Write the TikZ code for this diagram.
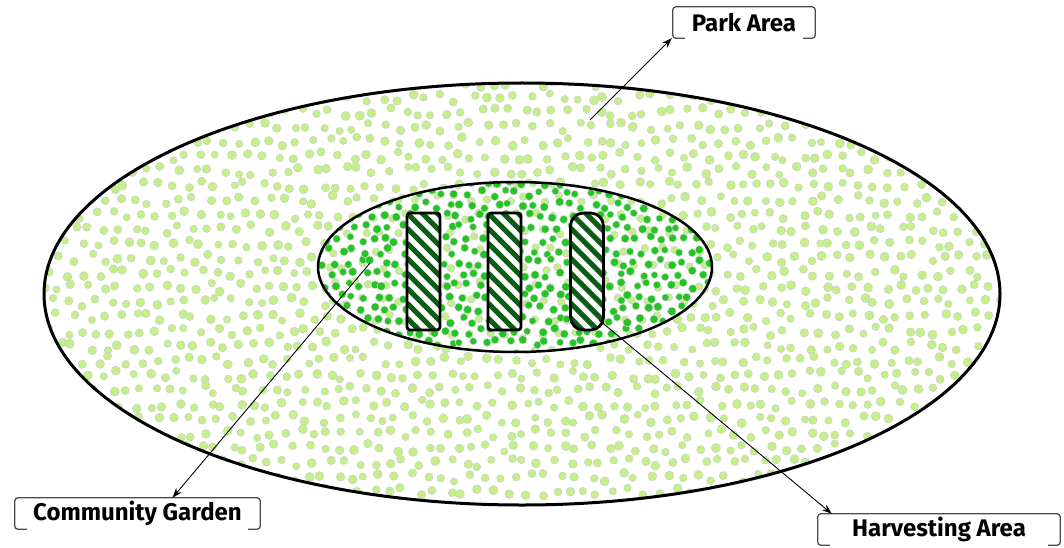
\documentclass[tikz,border=0pt]{standalone}
\usepackage{fontspec}
\setmainfont{Fira Sans}
\usetikzlibrary{positioning, arrows.meta, shapes.geometric, calc}

\definecolor{parkgreen}{RGB}{196,240,136}
\definecolor{gardengreen}{RGB}{36,196,36}
\definecolor{hatchgreen}{RGB}{12,92,22}

\begin{document}
\begin{tikzpicture}[x=1pt,y=-1pt]
	% styles
	\tikzset{
		area/.style={ellipse, draw=black, inner sep=0pt},
		park dot/.style={fill=parkgreen, draw=black!20, line width=0.5pt},
		garden dot/.style={fill=gardengreen, draw=black!15, line width=0.5pt},
		bed/.style={
			draw=black, line width=2.8pt, fill=white,
			minimum width=33pt, minimum height=117pt, inner sep=0pt,
			path picture={
				\foreach \s in {-60,-45,...,135}
				\draw[hatchgreen, line width=5pt]
				($(path picture bounding box.north west)+(0,\s)$) -- ++(60,60);
			}
		},
		tag/.style={font=\fontsize{24}{28}\selectfont\bfseries, minimum height=31pt, inner sep=0pt},
		tag line/.style={draw=black!70, line width=1.3pt, rounded corners=3pt},
		pointer/.style={-{Stealth[length=10pt,width=7pt]}, line width=0.9pt}
	}
	\useasboundingbox (0,0) rectangle (1064,548);
	
	% dots of the park
	\begin{scope}
		\clip (522,294) ellipse [x radius=478, y radius=211];
		\pgfmathsetseed{42}
		\foreach \i in {0,...,64} {
			\foreach \j in {0,...,28} {
				\pgfmathsetmacro{\px}{44+15*\i+7.5*mod(\j,2)+4.5*rand}
				\pgfmathsetmacro{\py}{83+14.6*\j+4.5*rand}
				\fill[park dot] (\px,\py) circle ({4.1+0.5*rand});
			}
		}
	\end{scope}
	
	% dots of the garden
	\fill[white] (515,267) ellipse [x radius=197, y radius=85];
	\begin{scope}
		\clip (515,267) ellipse [x radius=197, y radius=85];
		\foreach \i in {0,...,22} {
			\foreach \j in {0,...,10} {
				\pgfmathsetmacro{\px}{318+18*\i+9*mod(\j,2)+4*rand}
				\pgfmathsetmacro{\py}{182+17*\j+4*rand}
				\fill[park dot] (\px,\py) circle (3.8);
			}
		}
		\foreach \i in {0,...,34} {
			\foreach \j in {0,...,15} {
				\pgfmathsetmacro{\px}{318+12*\i+6*mod(\j,2)+3.5*rand}
				\pgfmathsetmacro{\py}{182+11.5*\j+3.5*rand}
				\fill[garden dot] (\px,\py) circle ({3.9+0.4*rand});
			}
		}
	\end{scope}
	
	% outlines
	\node[area, line width=3pt, minimum width=956pt, minimum height=422pt] (park) at (522,294) {};
	\node[area, line width=2.5pt, minimum width=394pt, minimum height=170pt] (garden) at (515,267) {};
	
	% beds
	\node[bed, rounded corners=3pt] (bed1) at (423.5,271.5) {};
	\node[bed, rounded corners=3pt] (bed2) at (504.5,271.5) {};
	\node[bed, rounded corners=13pt] (bed3) at (587,271.5) {};
	
	% labels
	\node[tag, minimum width=142pt] (parklabel) at (744,22.5) {Park Area};
	\node[tag, minimum width=245pt] (gardenlabel) at (137.5,513.5) {Community Garden};
	\node[tag, minimum width=242pt] (harvestlabel) at (939,529.5) {Harvesting Area};
	\foreach \n in {parklabel, gardenlabel, harvestlabel}
	\draw[tag line] ([xshift=12pt]\n.south west) -- (\n.south west) -- (\n.north west)
	-- (\n.north east) -- (\n.south east) -- ([xshift=-12pt]\n.south east);
	
	% pointers
	\coordinate (parkpt) at (590,120);
	\coordinate (gardenpt) at (370,263);
	\coordinate (harvestpt) at (599,320);
	\draw[pointer] (parkpt) -- ([xshift=-1pt]parklabel.south west);
	\draw[pointer] (gardenpt) -- ([xshift=35pt]gardenlabel.north);
	\draw[pointer] (harvestpt) -- ([xshift=14pt]harvestlabel.north west);
\end{tikzpicture}
\end{document}
